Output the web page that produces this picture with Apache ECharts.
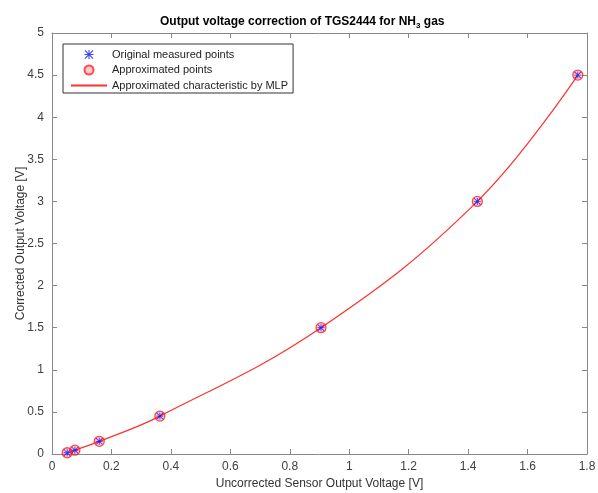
<!DOCTYPE html>
<html>
<head>
<meta charset="utf-8">
<script src="https://cdn.jsdelivr.net/npm/echarts@6/dist/echarts.min.js"></script>
<style>
  html, body { margin: 0; padding: 0; background: #fff; }
  #chart { width: 598px; height: 493px; }
</style>
</head>
<body>
<div id="chart"></div>
<script>
// Sensor output voltage (uncorrected) and the corrected output voltage
const sensorVoltage = [0.051, 0.077, 0.159, 0.363, 0.905, 1.431, 1.769];
const measuredOutput = [0.015, 0.045, 0.15, 0.45, 1.5, 3.0, 4.5];
const approximatedOutput = [0.015, 0.045, 0.15, 0.45, 1.5, 3.0, 4.5];
// MLP characteristic curve samples
const curveX = [0.051, 0.077, 0.159, 0.363, 0.905, 1.431, 1.769];
const curveY = [0.015, 0.045, 0.15, 0.45, 1.5, 3.0, 4.5];

const xTicks = { min: 0, max: 1.8, step: 0.2 };
const yTicks = { min: 0, max: 5, step: 0.5 };

const pairs = (xs, ys) => xs.map((x, i) => [x, ys[i]]);

const axisColor = '#888888';
const labelColor = '#404040';
const lineRed = '#ff3030';
const font = 'Liberation Sans, Arial, sans-serif';

const asterisk = 'path://M4.4,0h1.2v10h-1.2z M0,4.4h10v1.2h-10z ' +
  'M0.85,0L10,9.15L9.15,10L0,0.85z M9.15,0L10,0.85L0.85,10L0,9.15z';

const baseAxis = {
  type: 'value',
  splitLine: { show: false },
  axisLine: { show: true, onZero: false, lineStyle: { color: axisColor, width: 1 } },
  axisTick: { show: true, inside: true, length: 5, lineStyle: { color: axisColor } }
};

const chart = echarts.init(document.getElementById('chart'), null, { renderer: 'canvas' });

chart.setOption({
  backgroundColor: '#ffffff',
  animation: false,
  textStyle: { fontFamily: font },
  title: {
    text: '{a|Output voltage correction of TGS2444 for NH}{s|3}{a| gas}',
    left: 155,
    top: 9,
    textStyle: {
      rich: {
        a: { fontFamily: font, fontSize: 12, fontWeight: 'bold', color: '#000' },
        s: { fontFamily: font, fontSize: 8, fontWeight: 'bold', color: '#000', padding: [8, 0, 0, 0] }
      }
    }
  },
  legend: {
    orient: 'vertical',
    left: 63,
    top: 44,
    padding: [5, 5, 2, 7],
    itemGap: 4.5,
    itemWidth: 36,
    itemHeight: 9,
    borderColor: '#333',
    borderWidth: 1,
    textStyle: { fontFamily: font, fontSize: 11, color: '#222' },
    data: [
      { name: 'Original measured points' },
      { name: 'Approximated points' },
      { name: 'Approximated characteristic by MLP', itemStyle: { opacity: 0 } }
    ]
  },
  grid: { left: 52, right: 11, top: 33, bottom: 39, containLabel: false, outerBoundsMode: 'none' },
  xAxis: [
    Object.assign({}, baseAxis, {
      position: 'bottom',
      min: xTicks.min, max: xTicks.max, interval: xTicks.step,
      name: 'Uncorrected Sensor Output Voltage [V]',
      nameLocation: 'middle',
      nameGap: 24,
      nameMoveOverlap: false,
      nameTextStyle: { fontFamily: font, fontSize: 12, color: '#333' },
      axisLabel: { color: labelColor, fontSize: 12, margin: 7, formatter: v => String(+v.toFixed(1)) }
    }),
    Object.assign({}, baseAxis, {
      position: 'top',
      min: xTicks.min, max: xTicks.max, interval: xTicks.step,
      axisLabel: { show: false }
    })
  ],
  yAxis: [
    Object.assign({}, baseAxis, {
      position: 'left',
      min: yTicks.min, max: yTicks.max, interval: yTicks.step,
      name: 'Corrected Output Voltage [V]',
      nameLocation: 'middle',
      nameGap: 25,
      nameMoveOverlap: false,
      nameTextStyle: { fontFamily: font, fontSize: 12, color: '#333' },
      axisLabel: { color: labelColor, fontSize: 12, margin: 8, formatter: v => String(+v.toFixed(1)) }
    }),
    Object.assign({}, baseAxis, {
      position: 'right',
      min: yTicks.min, max: yTicks.max, interval: yTicks.step,
      axisLabel: { show: false }
    })
  ],
  series: [
    {
      name: 'Approximated characteristic by MLP',
      type: 'line',
      data: pairs(curveX, curveY),
      smooth: 0.4,
      showSymbol: false,
      symbol: 'none',
      color: lineRed,
      lineStyle: { color: lineRed, width: 1.2 },
      itemStyle: { color: lineRed },
      z: 2
    },
    {
      name: 'Approximated points',
      type: 'scatter',
      data: pairs(sensorVoltage, approximatedOutput),
      symbol: 'circle',
      symbolSize: 10,
      itemStyle: { color: 'rgba(255,0,0,0.25)', borderColor: '#ff2020', borderWidth: 1.3 },
      z: 3
    },
    {
      name: 'Original measured points',
      type: 'scatter',
      data: pairs(sensorVoltage, measuredOutput),
      symbol: asterisk,
      symbolSize: 7,
      itemStyle: { color: '#1010ff' },
      z: 4
    }
  ]
});
</script>
</body>
</html>
